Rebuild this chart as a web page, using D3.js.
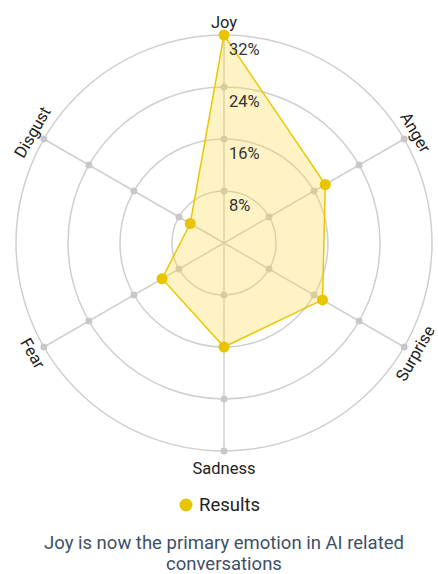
<!DOCTYPE html>
<html>
<head>
<meta charset="utf-8">
<script src="https://cdn.jsdelivr.net/npm/d3@7"></script>
<style>
  body { margin: 0; background: #fff; font-family: Roboto, "Noto Sans", sans-serif; }
</style>
</head>
<body>
<div id="chart"></div>
<script>
var emotions = ["Joy", "Anger", "Surprise", "Sadness", "Fear", "Disgust"];
var results = [32, 18, 17.5, 16, 11, 6];
var ticks = [8, 16, 24, 32];
var seriesName = "Results";
var caption = ["Joy is now the primary emotion in AI related", "conversations"];

var width = 438, height = 574;
var cx = 224, cy = 243, radius = 208;

var svg = d3.select("#chart").append("svg")
    .attr("width", width)
    .attr("height", height);

var g = svg.append("g")
    .attr("transform", "translate(" + cx + "," + cy + ")");

var r = d3.scaleLinear().domain([0, 32]).range([0, radius]);
var angle = d3.scalePoint().domain(emotions).range([0, 2 * Math.PI * 5 / 6]);

function px(name, v) { return r(v) * Math.sin(angle(name)); }
function py(name, v) { return -r(v) * Math.cos(angle(name)); }

// rings
g.selectAll(".ring")
    .data(ticks)
    .enter().append("circle")
    .attr("class", "ring")
    .attr("r", function (d) { return r(d); })
    .attr("fill", "none")
    .attr("stroke", "#cfcfcf")
    .attr("stroke-width", 1.5);

// spokes
g.selectAll(".spoke")
    .data(emotions)
    .enter().append("line")
    .attr("class", "spoke")
    .attr("x1", 0).attr("y1", 0)
    .attr("x2", function (d) { return px(d, 32); })
    .attr("y2", function (d) { return py(d, 32); })
    .attr("stroke", "#cfcfcf")
    .attr("stroke-width", 1.5);

// grid dots
var gridPts = [];
emotions.forEach(function (e) { ticks.forEach(function (t) { gridPts.push({ e: e, t: t }); }); });
g.selectAll(".gdot")
    .data(gridPts)
    .enter().append("circle")
    .attr("class", "gdot")
    .attr("cx", function (d) { return px(d.e, d.t); })
    .attr("cy", function (d) { return py(d.e, d.t); })
    .attr("r", 3.5)
    .attr("fill", "#c8c8c8");

// data area
var line = d3.lineRadial()
    .angle(function (d, i) { return angle(emotions[i]); })
    .radius(function (d) { return r(d); })
    .curve(d3.curveLinearClosed);

g.append("path")
    .datum(results)
    .attr("d", line)
    .attr("fill", "rgba(247, 214, 60, 0.3)")
    .attr("stroke", "#ecc700")
    .attr("stroke-width", 1.5);

g.selectAll(".pt")
    .data(results)
    .enter().append("circle")
    .attr("class", "pt")
    .attr("cx", function (d, i) { return px(emotions[i], d); })
    .attr("cy", function (d, i) { return py(emotions[i], d); })
    .attr("r", 5.5)
    .attr("fill", "#e9c400");

// tick labels
g.selectAll(".tick")
    .data(ticks)
    .enter().append("text")
    .attr("class", "tick")
    .attr("x", 5)
    .attr("y", function (d) { return -r(d) + 14; })
    .attr("dominant-baseline", "central")
    .attr("font-size", 16.5)
    .attr("fill", "#333")
    .text(function (d) { return d + "%"; });

// axis labels
g.selectAll(".alabel")
    .data(emotions)
    .enter().append("text")
    .attr("class", "alabel")
    .attr("transform", function (d) {
        var a = angle(d) * 180 / Math.PI;
        var rot = a % 180;
        if (rot > 90) rot -= 180;
        var lr = (rot === 0) ? radius + 17 : radius + 13;
        var x = lr * Math.sin(angle(d)), y = -lr * Math.cos(angle(d));
        return "translate(" + x + "," + y + ") rotate(" + rot + ")";
    })
    .attr("text-anchor", "middle")
    .attr("dominant-baseline", "central")
    .attr("font-size", 16.5)
    .attr("fill", "#222")
    .text(function (d) { return d; });

// legend
var legend = svg.append("g").attr("transform", "translate(186,505)");
legend.append("circle").attr("r", 6.5).attr("fill", "#e9c400");
legend.append("text")
    .attr("x", 13)
    .attr("dominant-baseline", "central")
    .attr("font-size", 18.5)
    .attr("fill", "#222")
    .text(seriesName);

// caption
svg.selectAll(".caption")
    .data(caption)
    .enter().append("text")
    .attr("class", "caption")
    .attr("x", 224)
    .attr("y", function (d, i) { return 543 + i * 21; })
    .attr("text-anchor", "middle")
    .attr("dominant-baseline", "central")
    .attr("font-size", 18.5)
    .attr("fill", "#3e4f66")
    .text(function (d) { return d; });
</script>
</body>
</html>
